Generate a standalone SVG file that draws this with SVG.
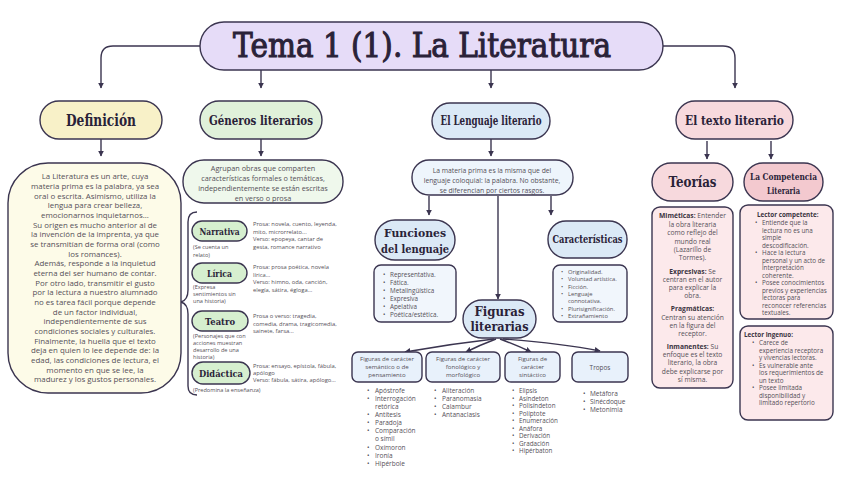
<svg xmlns="http://www.w3.org/2000/svg" width="848" height="477" viewBox="0 0 848 477">
<defs>
<marker id="ah" viewBox="0 0 10 10" refX="9" refY="5" markerWidth="6" markerHeight="6" orient="auto-start-reverse" markerUnits="userSpaceOnUse">
<path d="M0,0 L10,5 L0,10 z" fill="#3b3550"/>
</marker>
<style>
.bx{stroke:#3b3550;stroke-width:1.4}
.hd{font-family:"DejaVu Serif","Liberation Serif",serif;font-weight:bold;fill:#2a2238;text-anchor:middle}
.tt{font-family:"DejaVu Serif","Liberation Serif",serif;font-weight:normal;fill:#2a2238;stroke:#2a2238;stroke-width:1.1;text-anchor:middle}
.tx{font-family:"Open Sans","Noto Sans",sans-serif;fill:#555058;text-anchor:middle}
.tl{font-family:"Open Sans","Noto Sans",sans-serif;fill:#555058}
.cn{fill:none;stroke:#3b3550;stroke-width:1.4;marker-end:url(#ah)}
.ln{fill:none;stroke:#3b3550;stroke-width:1.4}
.b{font-weight:bold;fill:#3a3340}
</style>
</defs>
<rect width="848" height="477" fill="#ffffff"/>

<g id="connectors">
<path class="cn" d="M200,46 H113 Q101,46 101,58 V88"/>
<path class="cn" d="M261,70 V88"/>
<path class="cn" d="M491,70 V88"/>
<path class="cn" d="M663,46 H723 Q735,46 735,58 V88"/>
<path class="cn" d="M101,139 V156"/>
<path class="cn" d="M261,139 V156"/>
<path class="cn" d="M491,139 V156"/>
<path class="cn" d="M707,141 V159"/>
<path class="cn" d="M771,141 V159"/>
<path class="cn" d="M429,196 V215"/>
<path class="cn" d="M498,196 V299"/>
<path class="cn" d="M551,196 V215"/>
<path class="cn" d="M494,339 Q450,344 405,352"/>
<path class="cn" d="M496,339 Q480,345 466,352"/>
<path class="cn" d="M500,339 Q516,345 531,352"/>
<path class="cn" d="M503,339 Q560,343 600,351"/>
<path class="ln" d="M197,212 Q188,212 188,222 V290 Q188,300 181,302 Q188,304 188,314 V386 Q188,395 197,395"/>
</g>

<g id="title">
<rect class="bx" x="200" y="22" width="463" height="48" rx="24" fill="#e6dcf8"/>
<text class="tt" x="422" y="57" font-size="33" textLength="378" lengthAdjust="spacingAndGlyphs">Tema 1 (1). La Literatura</text>
</g>

<g id="definicion">
<rect class="bx" x="40" y="101" width="122" height="38" rx="19" fill="#f8f1c8"/>
<text class="hd" x="101" y="126" font-size="16" textLength="70" lengthAdjust="spacingAndGlyphs">Definición</text>
</g>

<g id="definicion-texto">
<rect class="bx" x="8" y="163" width="173" height="230" rx="40" fill="#fdfbe8"/>
<g class="tx" font-size="7.9">
<text x="95" y="179">La Literatura es un arte, cuya</text>
<text x="95" y="189">materia prima es la palabra, ya sea</text>
<text x="95" y="198.5">oral o escrita. Asimismo, utiliza la</text>
<text x="95" y="208">lengua para crear belleza,</text>
<text x="95" y="218">emocionarnos inquietarnos...</text>
<text x="95" y="227.5">Su origen es mucho anterior al de</text>
<text x="95" y="237">la invención de la imprenta, ya que</text>
<text x="95" y="247">se transmitían de forma oral (como</text>
<text x="95" y="256.5">los romances).</text>
<text x="95" y="266">Además, responde a la inquietud</text>
<text x="95" y="276">eterna del ser humano de contar.</text>
<text x="95" y="285.5">Por otro lado, transmitir el gusto</text>
<text x="95" y="295">por la lectura a nuestro alumnado</text>
<text x="95" y="305">no es tarea fácil porque depende</text>
<text x="95" y="314.5">de un factor individual,</text>
<text x="95" y="324">independientemente de sus</text>
<text x="95" y="334">condiciones sociales y culturales.</text>
<text x="95" y="343.5">Finalmente, la huella que el texto</text>
<text x="95" y="353">deja en quien lo lee depende de: la</text>
<text x="95" y="363">edad, las condiciones de lectura, el</text>
<text x="95" y="372.5">momento en que se lee, la</text>
<text x="95" y="382">madurez y los gustos personales.</text>
</g>
</g>

<g id="generos">
<rect class="bx" x="200" y="101" width="122" height="38" rx="19" fill="#e0f1da"/>
<text class="hd" x="261" y="125" font-size="13.5" textLength="104" lengthAdjust="spacingAndGlyphs">Géneros literarios</text>
</g>

<g id="generos-texto">
<rect class="bx" x="183" y="160" width="160" height="43" rx="21" fill="#eff8ec"/>
<g class="tx" font-size="7.3">
<text x="263" y="171">Agrupan obras que comparten</text>
<text x="263" y="181">características formales o temáticas,</text>
<text x="263" y="191">independientemente se están escritas</text>
<text x="263" y="201">en verso o prosa</text>
</g>
</g>

<g id="narrativa">
<rect class="bx" x="192" y="221" width="55" height="20" rx="10" fill="#d6efcf"/>
<text class="hd" x="219.5" y="234.5" font-size="9.5" textLength="40" lengthAdjust="spacingAndGlyphs">Narrativa</text>
<g class="tl" font-size="5.6">
<text x="193" y="249">(Se cuenta un</text>
<text x="193" y="257">relato)</text>
</g>
<g class="tl" font-size="5.8">
<text x="253" y="226">Prosa: novela, cuento, leyenda,</text>
<text x="253" y="233.5">mito, microrrelato...</text>
<text x="253" y="241">Verso: epopeya, cantar de</text>
<text x="253" y="248.5">gesta, romance narrativo</text>
</g>
</g>

<g id="lirica">
<rect class="bx" x="192" y="263" width="55" height="20" rx="10" fill="#d6efcf"/>
<text class="hd" x="219.5" y="276.5" font-size="9.5" textLength="25" lengthAdjust="spacingAndGlyphs">Lírica</text>
<g class="tl" font-size="5.6">
<text x="193" y="289">(Expresa</text>
<text x="193" y="296">sentimientos sin</text>
<text x="193" y="303">una historia)</text>
</g>
<g class="tl" font-size="5.8">
<text x="253" y="269">Prosa: prosa poética, novela</text>
<text x="253" y="276.5">lírica...</text>
<text x="253" y="284">Verso: himno, oda, canción,</text>
<text x="253" y="291.5">elegía, sátira, égloga...</text>
</g>
</g>

<g id="teatro">
<rect class="bx" x="192" y="311" width="56" height="20" rx="10" fill="#d6efcf"/>
<text class="hd" x="220" y="324.5" font-size="9.5" textLength="30" lengthAdjust="spacingAndGlyphs">Teatro</text>
<g class="tl" font-size="5.6">
<text x="193" y="338">(Personajes que con</text>
<text x="193" y="345">acciones muestran</text>
<text x="193" y="352">desarrollo de una</text>
<text x="193" y="359">historia)</text>
</g>
<g class="tl" font-size="5.8">
<text x="253" y="318">Prosa o verso: tragedia,</text>
<text x="253" y="325.5">comedia, drama, tragicomedia,</text>
<text x="253" y="333">sainete, farsa...</text>
</g>
</g>

<g id="didactica">
<rect class="bx" x="192" y="362" width="58" height="22" rx="11" fill="#d6efcf"/>
<text class="hd" x="221" y="376.5" font-size="9.5" textLength="44" lengthAdjust="spacingAndGlyphs">Didáctica</text>
<g class="tl" font-size="5.6">
<text x="193" y="392">(Predomina la enseñanza)</text>
</g>
<g class="tl" font-size="5.8">
<text x="253" y="367.5">Prosa: ensayo, epístola, fábula,</text>
<text x="253" y="374.5">apólogo</text>
<text x="253" y="381.5">Verso: fábula, sátira, apólogo...</text>
</g>
</g>

<g id="lenguaje">
<rect class="bx" x="432" y="103" width="118" height="36" rx="18" fill="#dbe9f6"/>
<text class="hd" x="491" y="125" font-size="12" textLength="101" lengthAdjust="spacingAndGlyphs">El Lenguaje literario</text>
</g>

<g id="lenguaje-texto">
<rect class="bx" x="412" y="160" width="161" height="35" rx="17" fill="#eef5fc"/>
<g class="tx" font-size="6.8">
<text x="492" y="173">La materia prima es la misma que del</text>
<text x="492" y="183">lenguaje coloquial: la palabra. No obstante,</text>
<text x="492" y="193">se diferencian por ciertos rasgos.</text>
</g>
</g>

<g id="funciones">
<rect class="bx" x="375" y="220" width="80" height="40" rx="20" fill="#dbe9f6"/>
<text class="hd" x="415" y="237" font-size="11.5" textLength="62" lengthAdjust="spacingAndGlyphs">Funciones</text>
<text class="hd" x="415" y="253" font-size="11.5" textLength="68" lengthAdjust="spacingAndGlyphs">del lenguaje</text>
</g>

<g id="funciones-lista">
<rect class="bx" x="374" y="265" width="82" height="57" rx="7" fill="#f1f6fc"/>
<g class="tl" font-size="6.3">
<text x="383" y="277">•</text><text x="390" y="277">Representativa.</text>
<text x="383" y="285">•</text><text x="390" y="285">Fática.</text>
<text x="383" y="293">•</text><text x="390" y="293">Metalingüística</text>
<text x="383" y="301">•</text><text x="390" y="301">Expresiva</text>
<text x="383" y="309">•</text><text x="390" y="309">Apelativa</text>
<text x="383" y="317">•</text><text x="390" y="317">Poética/estética.</text>
</g>
</g>

<g id="caracteristicas">
<rect class="bx" x="548" y="221" width="79" height="37" rx="18" fill="#dbe9f6"/>
<text class="hd" x="587.5" y="243" font-size="11" textLength="70" lengthAdjust="spacingAndGlyphs">Características</text>
</g>

<g id="caracteristicas-lista">
<rect class="bx" x="553" y="265" width="74" height="57" rx="7" fill="#f1f6fc"/>
<g class="tl" font-size="5.8">
<text x="561" y="274">•</text><text x="568" y="274">Originalidad.</text>
<text x="561" y="281.3">•</text><text x="568" y="281.3">Voluntad artística.</text>
<text x="561" y="288.6">•</text><text x="568" y="288.6">Ficción.</text>
<text x="561" y="295.9">•</text><text x="568" y="295.9">Lenguaje</text>
<text x="568" y="303.2">connotativa.</text>
<text x="561" y="310.5">•</text><text x="568" y="310.5">Plurisignificación.</text>
<text x="561" y="317.8">•</text><text x="568" y="317.8">Extrañamiento</text>
</g>
</g>

<g id="figuras">
<rect class="bx" x="463" y="300" width="73" height="38" rx="19" fill="#dbe9f6"/>
<text class="hd" x="499.5" y="316" font-size="12" textLength="50" lengthAdjust="spacingAndGlyphs">Figuras</text>
<text class="hd" x="499.5" y="331" font-size="12" textLength="58" lengthAdjust="spacingAndGlyphs">literarias</text>
</g>

<g id="fig-semantico">
<rect class="bx" x="352" y="352" width="70" height="30" rx="6" fill="#e8f1fb"/>
<g class="tx" font-size="6.1">
<text x="387" y="361">Figuras de carácter</text>
<text x="387" y="369">semántico o de</text>
<text x="387" y="377">pensamiento</text>
</g>
<g class="tl" font-size="6.5">
<text x="367" y="393">•</text><text x="375" y="393">Apóstrofe</text>
<text x="367" y="401">•</text><text x="375" y="401">Interrogación</text>
<text x="375" y="409">retórica</text>
<text x="367" y="417">•</text><text x="375" y="417">Antítesis</text>
<text x="367" y="425">•</text><text x="375" y="425">Paradoja</text>
<text x="367" y="433">•</text><text x="375" y="433">Comparación</text>
<text x="375" y="441">o símil</text>
<text x="367" y="450">•</text><text x="375" y="450">Oxímoron</text>
<text x="367" y="458">•</text><text x="375" y="458">Ironía</text>
<text x="367" y="466">•</text><text x="375" y="466">Hipérbole</text>
</g>
</g>

<g id="fig-fonologico">
<rect class="bx" x="426" y="352" width="74" height="30" rx="6" fill="#e8f1fb"/>
<g class="tx" font-size="6.1">
<text x="463" y="361">Figuras de carácter</text>
<text x="463" y="369">fonológico y</text>
<text x="463" y="377">morfológico</text>
</g>
<g class="tl" font-size="6.5">
<text x="434" y="393">•</text><text x="442" y="393">Aliteración</text>
<text x="434" y="401">•</text><text x="442" y="401">Paranomasia</text>
<text x="434" y="409">•</text><text x="442" y="409">Calambur</text>
<text x="434" y="417">•</text><text x="442" y="417">Antanaclasis</text>
</g>
</g>

<g id="fig-sintactico">
<rect class="bx" x="505" y="352" width="55" height="30" rx="6" fill="#e8f1fb"/>
<g class="tx" font-size="6.1">
<text x="532.5" y="361">Figuras de</text>
<text x="532.5" y="369">carácter</text>
<text x="532.5" y="377">sintáctico</text>
</g>
<g class="tl" font-size="6.3">
<text x="512" y="393">•</text><text x="519" y="393">Elipsis</text>
<text x="512" y="400.5">•</text><text x="519" y="400.5">Asíndeton</text>
<text x="512" y="408">•</text><text x="519" y="408">Polisíndeton</text>
<text x="512" y="415.5">•</text><text x="519" y="415.5">Políptote</text>
<text x="512" y="423">•</text><text x="519" y="423">Enumeración</text>
<text x="512" y="430.5">•</text><text x="519" y="430.5">Anáfora</text>
<text x="512" y="438">•</text><text x="519" y="438">Derivación</text>
<text x="512" y="445.5">•</text><text x="519" y="445.5">Gradación</text>
<text x="512" y="453">•</text><text x="519" y="453">Hipérbaton</text>
</g>
</g>

<g id="fig-tropos">
<rect class="bx" x="572" y="352" width="56" height="30" rx="6" fill="#e8f1fb"/>
<text class="tx" x="600" y="370" font-size="6.4">Tropos</text>
<g class="tl" font-size="6.5">
<text x="583" y="396">•</text><text x="590" y="396">Metáfora</text>
<text x="583" y="404">•</text><text x="590" y="404">Sinécdoque</text>
<text x="583" y="411.5">•</text><text x="590" y="411.5">Metonimia</text>
</g>
</g>

<g id="texto-literario">
<rect class="bx" x="676" y="101" width="117" height="38" rx="19" fill="#f7d9dd"/>
<text class="hd" x="734.5" y="125" font-size="13.5" textLength="99" lengthAdjust="spacingAndGlyphs">El texto literario</text>
</g>

<g id="teorias">
<rect class="bx" x="652" y="163" width="81" height="38" rx="19" fill="#f7d9dd"/>
<text class="hd" x="692.5" y="187" font-size="14" textLength="48" lengthAdjust="spacingAndGlyphs">Teorías</text>
</g>

<g id="teorias-texto">
<rect class="bx" x="652" y="207" width="81" height="181" rx="8" fill="#fce9eb"/>
<g class="tx" font-size="6.7">
<text x="692.5" y="218"><tspan class="b">Miméticas:</tspan> Entender</text>
<text x="692.5" y="226.5">la obra literaria</text>
<text x="692.5" y="235">como reflejo del</text>
<text x="692.5" y="243.5">mundo real</text>
<text x="692.5" y="252">(Lazarillo de</text>
<text x="692.5" y="260">Tormes).</text>
<text x="692.5" y="273.5"><tspan class="b">Expresivas:</tspan> Se</text>
<text x="692.5" y="282">centran en el autor</text>
<text x="692.5" y="290">para explicar la</text>
<text x="692.5" y="298">obra.</text>
<text x="692.5" y="311" class="b">Pragmáticas:</text>
<text x="692.5" y="319.5">Centran su atención</text>
<text x="692.5" y="327.5">en la figura del</text>
<text x="692.5" y="335.5">receptor.</text>
<text x="692.5" y="349"><tspan class="b">Inmanentes:</tspan> Su</text>
<text x="692.5" y="357">enfoque es el texto</text>
<text x="692.5" y="365">literario, la obra</text>
<text x="692.5" y="373.5">debe explicarse por</text>
<text x="692.5" y="381.5">sí misma.</text>
</g>
</g>

<g id="competencia">
<rect class="bx" x="744" y="163" width="79" height="38" rx="19" fill="#f3c9cf"/>
<text class="hd" x="783.5" y="180" font-size="9" textLength="67" lengthAdjust="spacingAndGlyphs">La Competencia</text>
<text class="hd" x="783.5" y="194" font-size="9" textLength="33" lengthAdjust="spacingAndGlyphs">Literaria</text>
</g>

<g id="lector-competente">
<rect class="bx" x="740" y="205" width="93" height="114" rx="8" fill="#fce9eb"/>
<g class="tl" font-size="6.3">
<text x="757" y="217" class="b">Lector competente:</text>
<text x="755" y="225">•</text><text x="762" y="225">Entiende que la</text>
<text x="762" y="232.5">lectura no es una</text>
<text x="762" y="240">simple</text>
<text x="762" y="247.5">descodificación.</text>
<text x="755" y="255">•</text><text x="762" y="255">Hace la lectura</text>
<text x="762" y="262.5">personal y un acto de</text>
<text x="762" y="270">interpretación</text>
<text x="762" y="277.5">coherente.</text>
<text x="755" y="285">•</text><text x="762" y="285">Posee conocimientos</text>
<text x="762" y="292.5">previos y experiencias</text>
<text x="762" y="300">lectoras para</text>
<text x="762" y="307.5">reconocer referencias</text>
<text x="762" y="315">textuales.</text>
</g>
</g>

<g id="lector-ingenuo">
<rect class="bx" x="740" y="326" width="93" height="94" rx="8" fill="#fce9eb"/>
<g class="tl" font-size="6.3">
<text x="744" y="337" class="b">Lector ingenuo:</text>
<text x="752" y="345">•</text><text x="759" y="345">Carece de</text>
<text x="759" y="352.5">experiencia receptora</text>
<text x="759" y="360">y vivencias lectoras.</text>
<text x="752" y="367.5">•</text><text x="759" y="367.5">Es vulnerable ante</text>
<text x="759" y="375">los requerimientos de</text>
<text x="759" y="382.5">un texto</text>
<text x="752" y="390">•</text><text x="759" y="390">Posee limitada</text>
<text x="759" y="397.5">disponibilidad y</text>
<text x="759" y="405">limitado repertorio</text>
</g>
</g>
</svg>
